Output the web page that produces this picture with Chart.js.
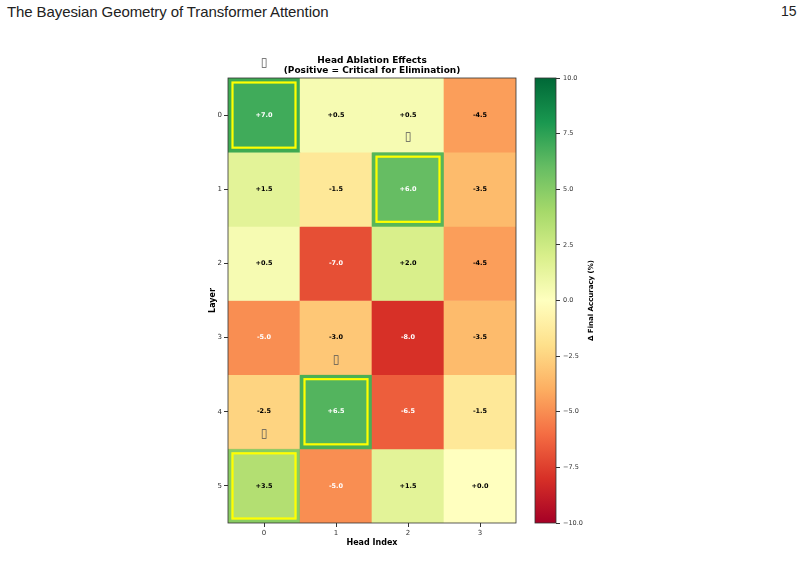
<!DOCTYPE html>
<html>
<head>
<meta charset="utf-8">
<script src="https://cdn.jsdelivr.net/npm/chart.js@4"></script>
<style>
  body { margin: 0; background: #fff; width: 801px; height: 578px; overflow: hidden; position: relative; }
  #hdr { position: absolute; left: 7px; top: 3px; font: 15px "Liberation Sans", sans-serif; color: #222; letter-spacing: -0.1px; }
  #pg { position: absolute; left: 781px; top: 3px; font: 14px "Liberation Sans", sans-serif; color: #222; }
  .box { position: absolute; }
</style>
</head>
<body>
<div id="hdr">The Bayesian Geometry of Transformer Attention</div>
<div id="pg">15</div>
<div class="box" style="left:150px;top:40px;width:380px;height:520px"><canvas id="heat"></canvas></div>
<div class="box" style="left:530px;top:40px;width:80px;height:520px"><canvas id="cbar"></canvas></div>
<script>
// data
const heads = ['0', '1', '2', '3'];
const layers = [0, 1, 2, 3, 4, 5];
const layer0 = [7.0, 0.5, 0.5, -4.5];
const layer1 = [1.5, -1.5, 6.0, -3.5];
const layer2 = [0.5, -7.0, 2.0, -4.5];
const layer3 = [-5.0, -3.0, -8.0, -3.5];
const layer4 = [-2.5, 6.5, -6.5, -1.5];
const layer5 = [3.5, -5.0, 1.5, 0.0];
const rows = [layer0, layer1, layer2, layer3, layer4, layer5];
// critical heads [layer, head]
const critical = [[0, 0], [1, 2], [4, 1], [5, 0]];
const cbTicks = [-10, -7.5, -5, -2.5, 0, 2.5, 5, 7.5, 10];
const vmin = -10, vmax = 10;

// RdYlGn
const cmap = ['#a50026', '#d73027', '#f46d43', '#fdae61', '#fee08b', '#ffffbf',
              '#d9ef8b', '#a6d96a', '#66bd63', '#1a9850', '#006837'];

function hexRgb(h) {
  return [parseInt(h.slice(1, 3), 16), parseInt(h.slice(3, 5), 16), parseInt(h.slice(5, 7), 16)];
}
function colorFor(v) {
  let t = (v - vmin) / (vmax - vmin);
  t = Math.max(0, Math.min(1, t));
  const p = t * (cmap.length - 1);
  const i = Math.min(Math.floor(p), cmap.length - 2);
  const f = p - i;
  const a = hexRgb(cmap[i]), b = hexRgb(cmap[i + 1]);
  const c = a.map((x, k) => Math.round(x + (b[k] - x) * f));
  return 'rgb(' + c.join(',') + ')';
}
function fmt(v) {
  return (v >= 0 ? '+' : '-') + Math.abs(v).toFixed(1);
}

const FONT = '"DejaVu Sans", sans-serif';

const datasets = rows.map((vals, r) => ({
  label: 'Layer ' + r,
  data: vals.map(() => [r - 0.5, r + 0.5]),
  backgroundColor: vals.map(colorFor),
  borderWidth: 0,
  grouped: false,
  barPercentage: 1,
  categoryPercentage: 1
}));

const heatPlugin = {
  id: 'heatExtras',
  afterDatasetsDraw(chart) {
    const { ctx, chartArea: a, scales: { x, y } } = chart;
    ctx.save();
    // values
    ctx.textAlign = 'center';
    ctx.textBaseline = 'middle';
    ctx.font = 'bold 6.5px ' + FONT;
    rows.forEach((vals, r) => {
      vals.forEach((v, c) => {
        ctx.fillStyle = Math.abs(v) >= 5 ? '#fff' : '#000';
        ctx.fillText(fmt(v), x.getPixelForValue(c), y.getPixelForValue(r));
      });
    });
    // critical head boxes
    critical.forEach(([r, c]) => {
      const x0 = x.getPixelForValue(c) - 36, x1 = x.getPixelForValue(c) + 36;
      const y0 = y.getPixelForValue(r - 0.5), y1 = y.getPixelForValue(r + 0.5);
      ctx.strokeStyle = 'rgba(60,170,70,0.35)';
      ctx.lineWidth = 3.5;
      ctx.strokeRect(x0 + 1.75, y0 + 1.75, x1 - x0 - 3.5, y1 - y0 - 3.5);
      ctx.strokeStyle = '#ffff00';
      ctx.lineWidth = 2.2;
      ctx.strokeRect(x0 + 4.5, y0 + 4.5, x1 - x0 - 9, y1 - y0 - 9);
      ctx.fillStyle = '#555';
      ctx.font = '12px ' + FONT;
      ctx.fillText('\u25AF', x.getPixelForValue(c), y0 - 15);
    });
    // frame
    ctx.strokeStyle = '#333';
    ctx.lineWidth = 0.8;
    ctx.strokeRect(a.left, a.top, a.right - a.left, a.bottom - a.top);
    // titles
    const cx = (a.left + a.right) / 2;
    ctx.fillStyle = '#000';
    ctx.font = 'bold 9px ' + FONT;
    ctx.fillText('Head Ablation Effects', cx, a.top - 17);
    ctx.fillText('(Positive = Critical for Elimination)', cx, a.top - 7);
    ctx.font = 'bold 8px ' + FONT;
    ctx.fillText('Head Index', cx, a.bottom + 20);
    ctx.translate(a.left - 15, (a.top + a.bottom) / 2);
    ctx.rotate(-Math.PI / 2);
    ctx.fillText('Layer', 0, 0);
    ctx.restore();
  }
};

new Chart(document.getElementById('heat'), {
  type: 'bar',
  data: { labels: heads, datasets: datasets },
  options: {
    responsive: true,
    maintainAspectRatio: false,
    animation: false,
    layout: { padding: { left: 0, right: 14, top: 38, bottom: 7 } },
    plugins: { legend: { display: false }, tooltip: { enabled: false } },
    scales: {
      x: {
        type: 'category',
        offset: true,
        grid: { offset: false, drawOnChartArea: false, tickLength: 4, tickColor: '#333' },
        border: { display: false },
        ticks: { color: '#333', font: { family: FONT, size: 7 }, padding: 2, maxRotation: 0 },
        afterFit(s) { s.height = 30; }
      },
      y: {
        type: 'linear',
        reverse: true,
        min: -0.5,
        max: 5.5,
        afterBuildTicks(s) { s.ticks = layers.map(v => ({ value: v })); },
        grid: { drawOnChartArea: false, tickLength: 4, tickColor: '#333' },
        border: { display: false },
        ticks: { color: '#333', font: { family: FONT, size: 7 }, padding: 2, callback: v => String(v) },
        afterFit(s) { s.width = 78; }
      }
    }
  },
  plugins: [heatPlugin]
});

// colour bar
function cbGradient(context) {
  const { chart } = context;
  const { chartArea, scales } = chart;
  if (!chartArea) return null;
  const y = scales.y;
  const g = chart.ctx.createLinearGradient(0, y.getPixelForValue(vmin), 0, y.getPixelForValue(vmax));
  cmap.forEach((c, i) => g.addColorStop(i / (cmap.length - 1), c));
  return g;
}

const cbPlugin = {
  id: 'cbExtras',
  afterDraw(chart) {
    const { ctx, chartArea: a } = chart;
    ctx.save();
    ctx.strokeStyle = '#333';
    ctx.lineWidth = 0.8;
    ctx.strokeRect(a.left, a.top, a.right - a.left, a.bottom - a.top);
    ctx.fillStyle = '#000';
    ctx.font = 'bold 7px ' + FONT;
    ctx.textAlign = 'center';
    ctx.textBaseline = 'middle';
    ctx.translate(a.right + 35, (a.top + a.bottom) / 2);
    ctx.rotate(-Math.PI / 2);
    ctx.fillText('\u0394 Final Accuracy (%)', 0, 0);
    ctx.restore();
  }
};

new Chart(document.getElementById('cbar'), {
  type: 'bar',
  data: {
    labels: [''],
    datasets: [{ data: [[vmin, vmax]], backgroundColor: cbGradient, borderWidth: 0, barPercentage: 1, categoryPercentage: 1 }]
  },
  options: {
    responsive: true,
    maintainAspectRatio: false,
    animation: false,
    layout: { padding: { left: 5, right: 0, top: 38, bottom: 37 } },
    plugins: { legend: { display: false }, tooltip: { enabled: false } },
    scales: {
      x: { display: false },
      y: {
        position: 'right',
        min: vmin,
        max: vmax,
        afterBuildTicks(s) { s.ticks = cbTicks.map(v => ({ value: v })); },
        grid: { drawOnChartArea: false, tickLength: 4, tickColor: '#333' },
        border: { display: false },
        ticks: {
          color: '#333', font: { family: FONT, size: 6.5 }, padding: 3,
          callback: v => (v < 0 ? '\u2212' : '') + Math.abs(v).toFixed(1)
        },
        afterFit(s) { s.width = 54; }
      }
    }
  },
  plugins: [cbPlugin]
});
</script>
</body>
</html>
